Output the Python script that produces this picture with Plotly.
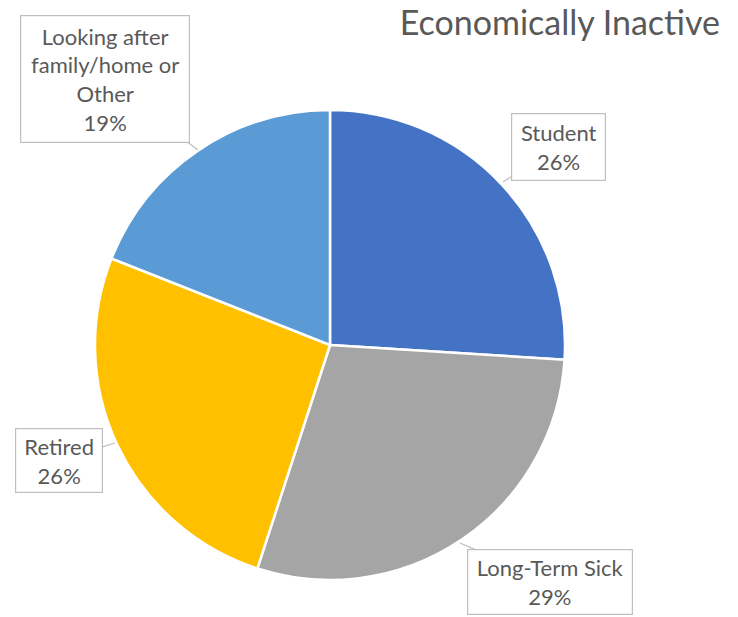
import plotly.graph_objects as go

# ---- data ----
categories = ["Student", "Long-Term Sick", "Retired", "Looking after family/home or Other"]
label_text = ["Student", "Long-Term Sick", "Retired", "Looking after<br>family/home or<br>Other"]
values = [26, 29, 26, 19]
colors = ["#4472C4", "#A5A5A5", "#FFC000", "#5B9BD5"]
title_text = "Economically Inactive"

W, H = 738, 617
FONT = "Lato"
TXT = "#595959"


def px(x):
    return x / W


def py(y):
    return 1 - y / H


# pie geometry (page pixels)
cx, cy, r = 330, 345, 235

fig = go.Figure(go.Pie(
    labels=categories,
    values=values,
    sort=False,
    direction="clockwise",
    rotation=0,
    marker=dict(colors=colors, line=dict(color="white", width=2.5)),
    textinfo="none",
    hoverinfo="label+percent",
    showlegend=False,
    domain=dict(x=[px(cx - r), px(cx + r)], y=[py(cy + r), py(cy - r)]),
))

# callout layout: (anchor point px, box centre px, box size px)
callouts = [
    ((503, 182), (558, 147), (95, 68)),
    ((460, 543), (550, 582), (166, 66)),
    ((115, 443), (59, 460), (88, 65)),
    ((198, 150), (105, 79), (170, 128)),
]

total = sum(values)
annotations = []
for txt, v, (pt, ctr, size) in zip(label_text, values, callouts):
    pct = round(100 * v / total)
    annotations.append(dict(
        text=f"{txt}<br>{pct}%",
        x=px(pt[0]), y=py(pt[1]), xref="paper", yref="paper",
        ax=ctr[0] - pt[0], ay=ctr[1] - pt[1],
        showarrow=True, arrowhead=0, arrowwidth=1.2, arrowcolor="#BFBFBF",
        font=dict(family=FONT, size=22, color=TXT),
        bgcolor="white", bordercolor="#BFBFBF", borderwidth=1.2, borderpad=0,
        width=size[0] - 2, height=size[1] - 2, align="center", valign="middle",
    ))

fig.update_layout(
    width=W, height=H,
    margin=dict(l=0, r=0, t=0, b=0),
    paper_bgcolor="white", plot_bgcolor="white",
    title=dict(text=title_text, x=px(720), xanchor="right", y=py(23), yanchor="middle",
               font=dict(family=FONT, size=34, color=TXT)),
    annotations=annotations,
)

fig.write_html(
    "out.html",
    config={"displayModeBar": False},
    post_script="document.body.style.margin='0';document.body.style.overflow='hidden';",
)
